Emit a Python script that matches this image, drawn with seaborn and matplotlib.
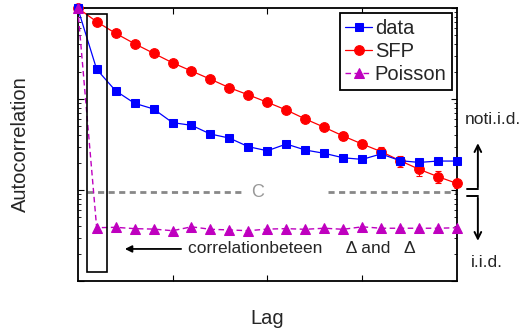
import numpy as np
import pandas as pd
import matplotlib
matplotlib.use("Agg")
import matplotlib.pyplot as plt
import seaborn as sns
from matplotlib.patches import Rectangle
from matplotlib.ticker import NullFormatter, LogLocator, FixedLocator

# ---- data ----
lags = list(range(21))
data_vals = [1.0, 0.212, 0.123, 0.0897, 0.0777, 0.055, 0.0514, 0.0412, 0.0372, 0.0299,
             0.027, 0.032, 0.0275, 0.0253, 0.0226, 0.0217, 0.0249, 0.021, 0.0201, 0.0208, 0.0208]
sfp_vals = [1.0, 0.707, 0.527, 0.405, 0.318, 0.25, 0.203, 0.165, 0.133, 0.111,
            0.092, 0.0757, 0.0603, 0.0489, 0.0392, 0.032, 0.0264, 0.021, 0.0169, 0.014, 0.0118]
sfp_err = [0, 0, 0, 0, 0, 0, 0, 0, 0, 0,
           0, 0.0012, 0.0023, 0.0025, 0.0040, 0.0032, 0.0031, 0.0029, 0.0026, 0.0021, 0.0012]
poisson_vals = [1.0, 0.00385, 0.00389, 0.00376, 0.00372, 0.00357, 0.00394, 0.0037, 0.00364, 0.00357,
                0.00372, 0.00376, 0.0037, 0.0038, 0.0037, 0.00394, 0.0038, 0.0038, 0.0038, 0.0038, 0.00385]
c_level = 0.0095
xticks = [5, 10, 15]
series_names = ["data", "SFP", "Poisson"]

sns.set_style("ticks")
plt.rcParams['font.family'] = ['Liberation Sans', 'DejaVu Sans']
plt.rcParams['mathtext.fontset'] = 'dejavusans'

fig = plt.figure(figsize=(5.22, 3.33), dpi=100)
ax = fig.add_axes([77.7 / 522, 52 / 333, 379.3 / 522, 273 / 333])

df = pd.DataFrame({"lag": lags, "data": data_vals, "SFP": sfp_vals, "Poisson": poisson_vals})

blue = "#0000FF"
red = "#FF0000"
mag = "#BF00BF"

# gray C line
ax.plot([0.49, 8.83], [c_level, c_level], color="#888888", lw=2.0, ls=(0, (2.2, 1.6)), zorder=1)
ax.plot([13.2, 20], [c_level, c_level], color="#888888", lw=2.0, ls=(0, (2.2, 1.6)), zorder=1)
ax.text(9.5, c_level, "C", color="#999999", fontsize=13, ha="center", va="center")

ax.errorbar(df["lag"], df["SFP"], yerr=sfp_err, fmt="none", ecolor=red, elinewidth=0.8,
            capsize=2.5, capthick=0.8, zorder=3)
sns.lineplot(data=df, x="lag", y="SFP", ax=ax, color=red, marker="o", markersize=7,
             markeredgecolor=red, lw=0.9, label="SFP", zorder=4, clip_on=False)
sns.lineplot(data=df, x="lag", y="data", ax=ax, color=blue, marker="s", markersize=5.2,
             markeredgecolor=blue, lw=0.9, label="data", zorder=5, clip_on=False)
sns.lineplot(data=df, x="lag", y="Poisson", ax=ax, color=mag, marker="^", markersize=6.8,
             markeredgecolor=mag, lw=1.0, ls=(0, (4, 2.5)), label="Poisson", zorder=6, clip_on=False)

ax.set_yscale("log")
ax.set_xlim(0, 20)
ax.set_ylim(1e-3, 1)

ax.xaxis.set_major_locator(FixedLocator(xticks))
ax.set_xticklabels([])
ax.yaxis.set_major_locator(LogLocator(base=10, numticks=10))
ax.yaxis.set_minor_locator(LogLocator(base=10, subs=np.arange(2, 10), numticks=20))
ax.yaxis.set_major_formatter(NullFormatter())
ax.yaxis.set_minor_formatter(NullFormatter())
ax.tick_params(which="both", direction="in", top=True, right=True, color="black")
ax.tick_params(which="major", length=4, width=0.8)
ax.tick_params(which="minor", length=2, width=0.6)
for s in ax.spines.values():
    s.set_visible(True)
    s.set_linewidth(1.3)
    s.set_color("black")

ax.set_xlabel("Lag", fontsize=14.5, labelpad=17)
ax.set_ylabel("Autocorrelation", fontsize=14.5, labelpad=31)

# rectangle around lag 1
ax.add_patch(Rectangle((0.5, 0.00126), 1.05, 0.87 - 0.00126, fill=False, ec="black", lw=1.2, zorder=7))

# arrow + annotation
ax.annotate("", xy=(2.34, 0.00225), xytext=(5.6, 0.00225),
            arrowprops=dict(arrowstyle="-|>", color="black", lw=1.3, mutation_scale=10))
ax.text(5.8, 0.00225, "correlationbeteen     Δ and   Δ", fontsize=12.5, va="center", ha="left")

# right-side not i.i.d / i.i.d arrows
tr = ax.transAxes
ax.plot([1.026, 1.055], [0.337, 0.337], color="black", lw=1.4, transform=tr, clip_on=False)
ax.plot([1.026, 1.055], [0.311, 0.311], color="black", lw=1.4, transform=tr, clip_on=False)
ax.annotate("", xy=(1.055, 0.515), xytext=(1.055, 0.333), xycoords=tr, textcoords=tr,
            arrowprops=dict(arrowstyle="->", color="black", lw=1.4, mutation_scale=12))
ax.annotate("", xy=(1.055, 0.137), xytext=(1.055, 0.315), xycoords=tr, textcoords=tr,
            arrowprops=dict(arrowstyle="->", color="black", lw=1.4, mutation_scale=12))
ax.text(1.095, 0.59, "noti.i.d.", transform=tr, fontsize=12.5, ha="center", va="center")
ax.text(1.078, 0.066, "i.i.d.", transform=tr, fontsize=12.5, ha="center", va="center")

# legend
h, l = ax.get_legend_handles_labels()
order = [l.index(n) for n in series_names]
leg = ax.legend([h[i] for i in order], [l[i] for i in order], loc="upper right",
                bbox_to_anchor=(0.987, 0.982), borderaxespad=0, fontsize=14.5,
                handlelength=1.3, handletextpad=0.15, labelspacing=0.22,
                borderpad=0.28, fancybox=False, framealpha=1, edgecolor="black")
leg.get_frame().set_linewidth(1.3)

fig.savefig("out.png", dpi=100)
